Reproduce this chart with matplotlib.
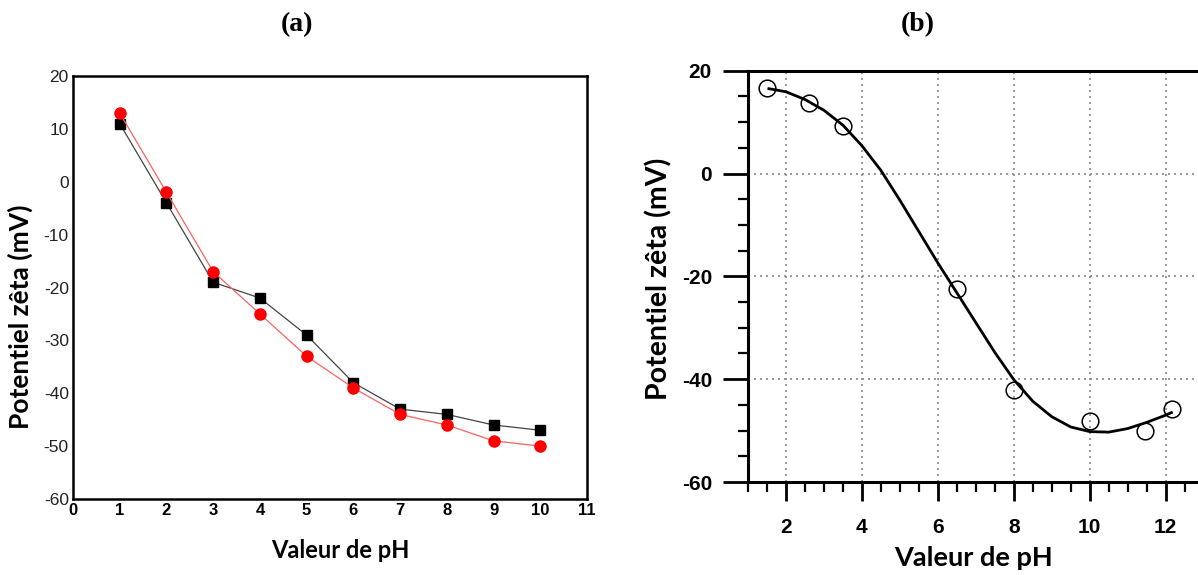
import numpy as np
import matplotlib.pyplot as plt
from matplotlib.ticker import MultipleLocator

plt.rcParams['axes.unicode_minus'] = False

# (a) donnees
ph_a = [1, 2, 3, 4, 5, 6, 7, 8, 9, 10]
zeta_noir = [11, -4, -19, -22, -29, -38, -43, -44, -46, -47]
zeta_rouge = [13, -2, -17, -25, -33, -39, -44, -46, -49, -50]

# (b) points mesures
ph_b = [1.5, 2.6, 3.5, 6.5, 8.0, 10.0, 11.45, 12.17]
zeta_b = [16.6, 13.8, 9.3, -22.5, -42.2, -48.2, -50.1, -45.8]

# (b) courbe
ph_courbe = [1.55, 2.0, 2.5, 3.0, 3.5, 4.0, 4.5, 5.0, 5.5, 6.0, 6.5, 7.0,
             7.5, 8.0, 8.5, 9.0, 9.5, 10.0, 10.5, 11.0, 11.5, 12.0, 12.15]
zeta_courbe = [16.5, 15.9, 14.4, 12.3, 9.4, 5.4, 0.6, -5.2, -11.3, -17.4,
               -23.2, -29.0, -34.8, -40.1, -44.3, -47.3, -49.3, -50.2,
               -50.3, -49.6, -48.4, -47.0, -46.5]

fig = plt.figure(figsize=(11.98, 5.75), dpi=100)

# ---------- (a) ----------
ax1 = fig.add_axes([73/1198, (575-499)/575, 514/1198, 423/575])
ax1.plot(ph_a, zeta_noir, color='#444444', lw=0.9, marker='s', ms=7,
         mfc='black', mec='black')
ax1.plot(ph_a, zeta_rouge, color='#ff6060', lw=0.9, marker='o', ms=8,
         mfc='red', mec='red')
ax1.set_xlim(0, 11)
ax1.set_ylim(-60, 20)
ax1.set_xticks(range(0, 12))
ax1.set_yticks(range(-60, 21, 10))
ax1.tick_params(length=0, pad=3)
for lbl in ax1.get_xticklabels():
    lbl.set_family('Liberation Sans')
    lbl.set_weight('bold')
    lbl.set_size(12)
for lbl in ax1.get_yticklabels():
    lbl.set_family('Liberation Sans')
    lbl.set_size(12.5)
    lbl.set_color('#222222')
for s in ax1.spines.values():
    s.set_linewidth(1.8)
ax1.set_xlabel('Valeur de pH', family='Lato', weight='bold', size=17)
ax1.xaxis.set_label_coords(0.52, -0.095)
ax1.set_ylabel('Potentiel zêta (mV)', family='Lato', weight='bold', size=19)
ax1.yaxis.set_label_coords(-0.078, 0.43)

# ---------- (b) ----------
ax2 = fig.add_axes([748/1198, (575-482)/575, 450/1198, (482-70.7)/575])
ax2.plot(ph_courbe, zeta_courbe, color='black', lw=2, zorder=3,
         solid_joinstyle='round')
ax2.plot(ph_b, zeta_b, ls='none', marker='o', ms=12, mfc='none',
         mec='black', mew=1.1, zorder=4)
ax2.set_xlim(1, 12.85)
ax2.set_ylim(-60, 20)
ax2.set_xticks([2, 4, 6, 8, 10, 12])
ax2.set_yticks([-60, -40, -20, 0, 20])
ax2.xaxis.set_minor_locator(MultipleLocator(0.5))
ax2.yaxis.set_minor_locator(MultipleLocator(5))
ax2.tick_params(axis='x', which='major', length=14, width=2, direction='out', pad=12)
ax2.tick_params(axis='y', which='major', length=18, width=2, direction='out', pad=8)
ax2.tick_params(which='minor', length=7.5, width=1.6, direction='out')
ax2.grid(True, which='major', color='#888888', ls=(0, (1.2, 2.4)), lw=1.2)
for lbl in ax2.get_xticklabels() + ax2.get_yticklabels():
    lbl.set_family('Liberation Sans')
    lbl.set_weight('bold')
    lbl.set_size(15)
ax2.spines['right'].set_visible(False)
for k in ['left', 'bottom', 'top']:
    ax2.spines[k].set_linewidth(2.2)
ax2.set_xlabel('Valeur de pH', family='Lato', weight='bold', size=19.5)
ax2.xaxis.set_label_coords(0.5, -0.155)
ax2.set_ylabel('Potentiel zêta (mV)', family='Lato', weight='bold', size=20.5)
ax2.yaxis.set_label_coords(-0.168, 0.495)

fig.text(297/1198, 1 - 25/575, '(a)', family='Liberation Serif', weight='bold',
         size=20, ha='center', va='center')
fig.text(918/1198, 1 - 25/575, '(b)', family='Liberation Serif', weight='bold',
         size=20, ha='center', va='center')

fig.savefig('out.png', dpi=100)
